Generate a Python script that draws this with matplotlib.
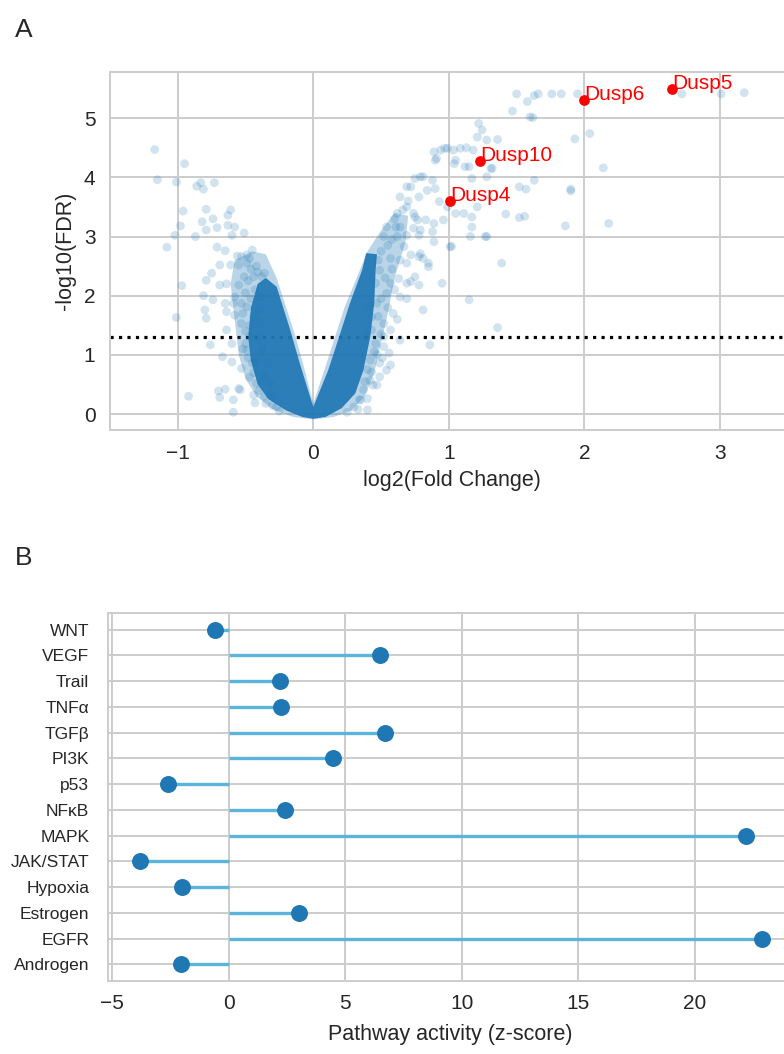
import matplotlib
matplotlib.use("Agg")
import matplotlib.pyplot as plt

plt.rcParams['font.family'] = ['Liberation Sans', 'DejaVu Sans']

# ---- panel A: volcano plot ----
# sparse genes (log2 fold change, -log10 FDR)
volcano_x = [
    -1.17, -0.95, -1.15, -1.01, -0.86, -0.83, -0.81, -0.73, -0.96, -0.79, -0.74, -0.61, -0.63, -0.82,
    -0.98, -0.79, -0.71, -1.02, -0.87, -1.08, -0.63, -0.58, -0.51, -0.60, -0.71, -0.65, -0.56, -0.49,
    -0.45, -0.69, -0.61, -0.55, -0.49, -0.42, -0.75, -0.79, -0.69, -0.64, -0.97, -0.81, -0.74, -0.65,
    -0.58, -0.53, -0.80, -0.79, -0.64, -0.58, -1.01, -0.64, -0.53, -0.76, -0.60, -0.50, -0.67, -0.60,
    -0.53, -0.45, -0.92, -0.70, -0.65, -0.55, -0.59, -0.44, -0.42, -0.35, -0.37, -0.53, -0.47, -0.38,
    -0.51, -0.44, -0.55, -0.59, -0.49, -0.44, -0.47, -0.49, -0.42, -0.40, -0.38, -0.34, -0.32, -0.29,
    -0.27, -0.39, -0.40, -0.39, -0.69, -0.59, -0.54, -0.43, -0.32, -0.46, -0.41, -0.36, -0.48, -0.43,
    -0.50, -0.46, -0.52, -0.47, -0.50, -0.52, -0.48, -0.44, -0.47, -0.40, -0.36, -0.25, -0.30,
    1.22, 1.245, 1.21, 0.99, 0.94, 0.89, 1.035, 1.085, 1.13, 1.18, 0.91, 1.05, 1.12, 1.28, 1.17, 0.81,
    0.75, 0.88, 0.72, 0.78, 0.84, 0.90, 0.93, 0.99, 1.11, 1.17, 0.64, 0.62, 0.69, 0.75, 0.83, 0.89,
    0.74, 0.61, 0.54, 0.52, 0.62, 0.69, 0.78, 0.89, 1.02, 1.16, 1.27, 0.67, 0.72, 0.78, 0.64, 0.57,
    0.85, 0.81, 0.63, 0.72, 0.78, 0.95, 0.64, 0.54, 0.69, 1.15, 0.81, 1.36, 0.64, 0.86, 0.52, 0.57,
    0.49, 0.42, 0.40, 0.47, 0.43, 0.52, 0.59, 0.49, 0.46, 0.47, 0.57,
    1.50, 1.58, 1.63, 1.66, 1.76, 1.83, 1.95, 1.47, 1.60, 1.62, 2.72, 3.01, 3.18, 1.93, 2.04, 2.14,
    1.28, 1.36, 1.32, 1.63, 1.52, 1.57, 1.90, 1.90, 1.42, 1.52, 1.56, 1.86, 2.18, 1.28, 1.39, 0.97,
    1.31, 1.15, 1.04, 0.90, 0.79, 0.69, 1.21, 0.74, 0.64, 0.77, 0.96, 1.05, 1.17, 0.79, 0.88, 1.01,
    0.69, 0.79, 0.85, 0.69, 0.75,
    0.41, 0.43, 0.52, 0.46, 0.56, 0.49, 0.43, 0.54, 0.37, 0.34, 0.47, 0.42, 0.57, 0.38, 0.40, 0.44,
    0.35, 0.50, 0.55, 0.48, 0.58, 0.60, 0.66, 0.70, 0.58, 0.53, 0.60, 0.50, 0.55, 0.62, 0.48, 0.50,
    0.45, 0.51, 0.40, 0.38, 0.30, 0.25, 0.33,
]
volcano_y = [
    4.47, 4.23, 3.96, 3.92, 3.85, 3.91, 3.80, 3.91, 3.43, 3.46, 3.30, 3.45, 3.36, 3.25,
    3.18, 3.11, 3.15, 3.02, 3.00, 2.82, 3.19, 3.16, 3.06, 3.02, 2.82, 2.76, 2.67, 2.69,
    2.77, 2.52, 2.52, 2.52, 2.55, 2.50, 2.38, 2.26, 2.18, 2.20, 2.17, 2.00, 1.93, 1.87,
    1.98, 1.87, 1.76, 1.62, 1.73, 1.67, 1.63, 1.42, 1.53, 1.17, 1.19, 1.19, 0.97, 0.88,
    0.77, 0.86, 0.30, 0.39, 0.42, 0.43, 0.24, 0.32, 0.52, 0.18, 0.63, 2.66, 2.63, 2.32,
    2.32, 2.32, 2.18, 1.87, 1.81, 1.64, 1.31, 1.08, 0.91, 1.31, 1.08, 0.86, 0.52, 0.29,
    0.12, 1.53, 1.76, 1.98, 0.28, 0.03, 0.41, 0.19, 0.32, 2.45, 2.40, 2.38, 2.25, 2.10,
    2.05, 1.95, 1.70, 1.50, 1.40, 1.10, 0.95, 0.70, 0.62, 0.40, 0.30, 0.05, 0.15,
    4.91, 4.80, 4.68, 4.49, 4.46, 4.43, 4.46, 4.49, 4.50, 4.46, 4.32, 4.29, 4.18, 4.01, 3.98, 4.01,
    3.98, 3.95, 3.84, 3.67, 3.78, 3.81, 3.59, 3.50, 3.39, 3.33, 3.67, 3.39, 3.50, 3.33, 3.28, 3.22,
    3.14, 3.16, 3.16, 3.00, 3.00, 3.02, 3.02, 2.91, 2.83, 3.00, 3.00, 2.83, 2.69, 2.66, 2.60, 2.63,
    2.49, 2.63, 2.29, 2.24, 2.18, 2.21, 1.98, 2.04, 1.95, 1.93, 1.76, 1.46, 1.25, 1.17, 1.14, 0.83,
    0.63, 0.57, 0.26, 1.00, 1.42, 1.53, 1.70, 2.43, 2.21, 1.87, 2.21,
    5.41, 5.28, 5.38, 5.41, 5.41, 5.41, 5.41, 5.12, 5.02, 5.01, 5.41, 5.41, 5.43, 4.65, 4.74, 4.16,
    4.63, 4.64, 4.15, 3.95, 3.84, 3.80, 3.80, 3.77, 3.38, 3.32, 3.34, 3.18, 3.22, 3.00, 2.55, 4.49,
    4.15, 4.18, 4.23, 4.29, 4.01, 3.84, 3.50, 3.39, 3.16, 3.28, 3.28, 3.39, 3.16, 3.11, 3.08, 2.83,
    2.55, 2.71, 2.55, 2.21, 2.32,
    1.81, 1.64, 1.31, 1.19, 1.03, 0.86, 0.71, 0.74, 0.41, 0.24, 0.49, 0.91, 1.42, 1.31, 0.07, 0.49,
    0.24, 2.75, 2.85, 2.60, 2.95, 3.30, 3.45, 3.60, 2.45, 2.30, 2.10, 1.95, 1.80, 1.60, 1.65, 1.35,
    1.05, 0.95, 0.75, 0.55, 0.12, 0.03, 0.08,
]

# outline of the fully overplotted V-shaped core of the cloud
core_x = [-0.35, -0.41, -0.46, -0.48, -0.46, -0.41, -0.33, -0.20, -0.08, 0.0, 0.09, 0.21, 0.31, 0.37,
          0.42, 0.45, 0.46, 0.47, 0.39, 0.36, 0.27, 0.19, 0.11, 0.0, -0.10, -0.17, -0.27]
core_y = [2.30, 2.20, 1.80, 1.30, 0.90, 0.50, 0.25, 0.06, -0.05, -0.08, -0.05, 0.10, 0.35, 0.74,
          1.30, 1.87, 2.43, 2.70, 2.72, 2.43, 1.87, 1.30, 0.74, 0.12, 0.86, 1.42, 2.15]

# outline of the half-saturated fringe around that core
fringe_x = [-0.45, -0.58, -0.61, -0.58, -0.55, -0.50, -0.42, -0.30, -0.15, 0.0, 0.15, 0.28, 0.38,
            0.45, 0.50, 0.55, 0.60, 0.68, 0.70, 0.60, 0.50, 0.40, 0.32, 0.23, 0.16, 0.09, 0.0,
            -0.07, -0.13, -0.20, -0.27, -0.35]
fringe_y = [2.75, 2.60, 2.20, 1.60, 1.00, 0.60, 0.30, 0.08, -0.05, -0.09, -0.05, 0.06, 0.30,
            0.70, 1.20, 1.70, 2.30, 2.90, 3.35, 3.40, 3.10, 2.75, 2.30, 1.80, 1.30, 0.80, 0.18,
            0.80, 1.30, 1.80, 2.30, 2.70]

genes = ['Dusp4', 'Dusp10', 'Dusp6', 'Dusp5']
genes_x = [1.01, 1.23, 2.00, 2.65]
genes_y = [3.60, 4.27, 5.30, 5.50]

fdr_cut = 1.3

# ---- panel B: pathway activity ----
pathways = ['Androgen', 'EGFR', 'Estrogen', 'Hypoxia', 'JAK/STAT', 'MAPK', 'NFκB',
            'p53', 'PI3K', 'TGFβ', 'TNFα', 'Trail', 'VEGF', 'WNT']
zscores = [-2.06, 22.86, 3.0, -1.98, -3.80, 22.19, 2.42, -2.59, 4.46, 6.71, 2.25, 2.22, 6.48, -0.57]

GRID = '#cccccc'
TXT = '#262626'
BLUE = '#1f77b4'


def style(ax):
    ax.grid(True, color=GRID, lw=1.4)
    ax.set_axisbelow(True)
    for s in ax.spines.values():
        s.set_color(GRID)
        s.set_linewidth(1.4)
    ax.tick_params(length=0, colors=TXT)


fig = plt.figure(figsize=(7.84, 10.54), dpi=100)

ax1 = fig.add_axes([0.1403, 0.592, 0.8712, 0.3397])
style(ax1)
ax1.axhline(fdr_cut, color='black', linestyle=':', lw=2.3, zorder=1)
ax1.fill(fringe_x, fringe_y, color=BLUE, lw=0, alpha=0.3, zorder=2)
ax1.fill(core_x, core_y, color=BLUE, lw=0, alpha=0.92, zorder=2)
ax1.scatter(volcano_x, volcano_y, s=40, color=BLUE, alpha=0.2, edgecolors='none', zorder=2)
ax1.scatter(genes_x, genes_y, s=45, color='red', zorder=4)
for g, x, y in zip(genes, genes_x, genes_y):
    ax1.text(x, y, g, color='red', fontsize=15, zorder=5)
ax1.set_xlim(-1.5, 3.54)
ax1.set_ylim(-0.27, 5.78)
ax1.set_xticks([-1, 0, 1, 2, 3])
ax1.set_yticks([0, 1, 2, 3, 4, 5])
ax1.tick_params(axis='x', labelsize=15, pad=10)
ax1.tick_params(axis='y', labelsize=15, pad=10.5)
ax1.set_xlabel('log2(Fold Change)', fontsize=15.5, color=TXT, labelpad=5)
ax1.set_ylabel('-log10(FDR)', fontsize=15.5, color=TXT, labelpad=5.5)

ax2 = fig.add_axes([0.1378, 0.0693, 0.8737, 0.3491])
style(ax2)
ypos = list(range(len(pathways)))
ax2.hlines(ypos, 0, zscores, color='#5ab4dc', lw=2.4, zorder=2)
ax2.scatter(zscores, ypos, s=125, color=BLUE, zorder=3)
ax2.set_yticks(ypos)
ax2.set_yticklabels(pathways)
ax2.set_xticks([-5, 0, 5, 10, 15, 20])
ax2.set_xlim(-5.17, 24.2)
ax2.set_ylim(-0.65, 13.65)
ax2.tick_params(axis='x', labelsize=15, pad=9.5)
ax2.tick_params(axis='y', labelsize=12.5, pad=13.5)
ax2.set_xlabel('Pathway activity (z-score)', fontsize=15.5, color=TXT, labelpad=8)

fig.text(15 / 784, 1 - 37 / 1054, 'A', fontsize=19, color=TXT)
fig.text(15 / 784, 1 - 565 / 1054, 'B', fontsize=19, color=TXT)

fig.savefig('out.png', dpi=100)
